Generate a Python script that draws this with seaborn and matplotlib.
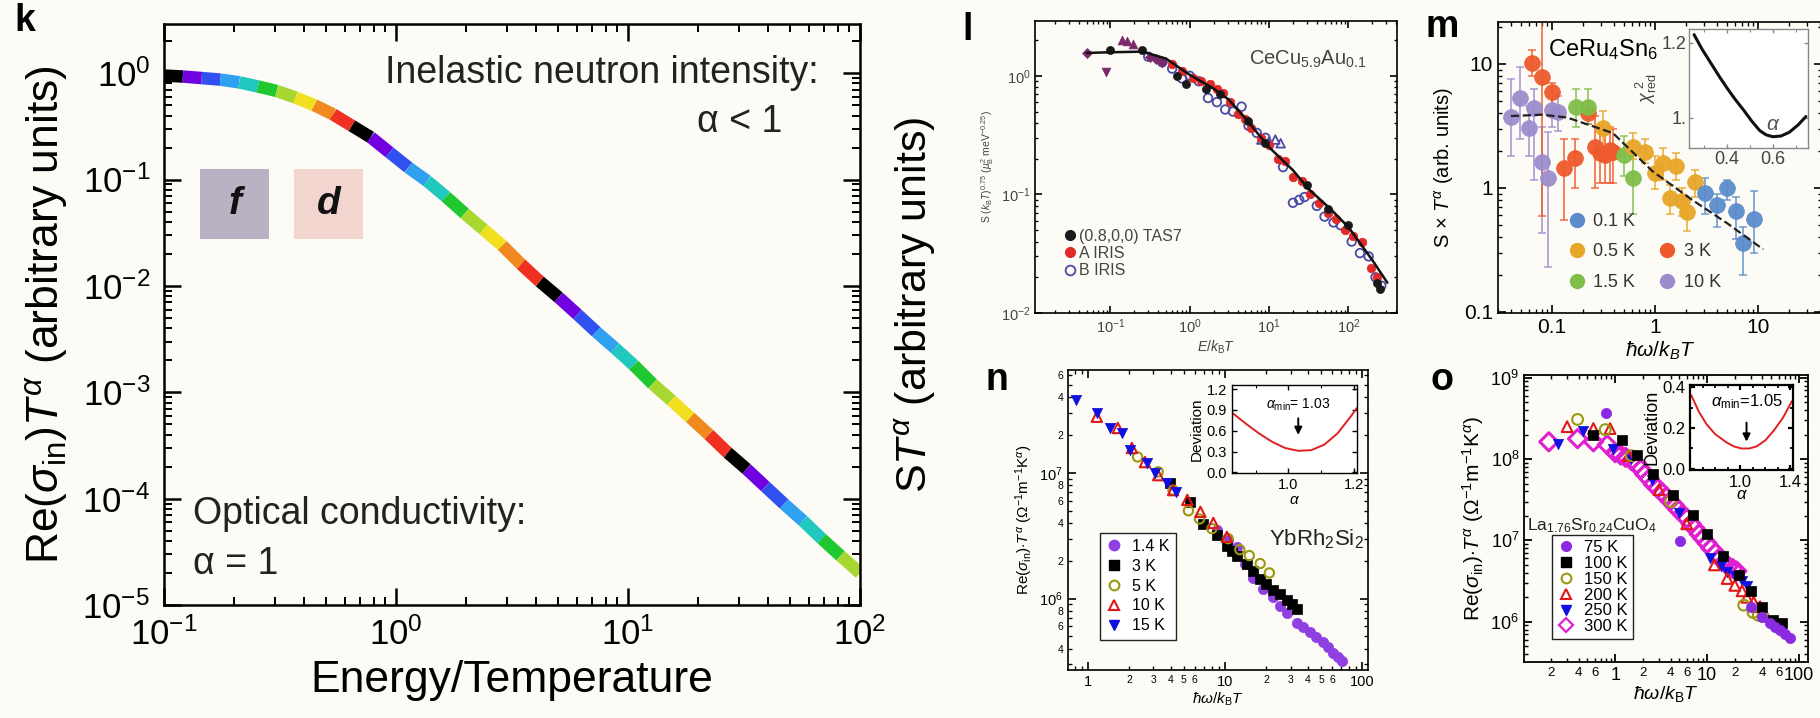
import matplotlib
matplotlib.use('Agg')
import numpy as np
import pandas as pd
import matplotlib.pyplot as plt
import seaborn as sns
from matplotlib.lines import Line2D
from matplotlib.patches import Rectangle
from matplotlib.ticker import LogLocator, FuncFormatter, NullFormatter, FixedLocator, FixedFormatter

# ---------------- data ----------------
# panel k: model curve (energy/temperature, Re(sigma) T^alpha)
K_X = [0.100, 0.1205, 0.1452, 0.1750, 0.2109, 0.2541, 0.3062, 0.3690, 0.4446, 0.5358,
       0.6457, 0.7780, 0.9376, 1.130, 1.361, 1.641, 1.977, 2.382, 2.871, 3.459,
       4.169, 5.023, 6.053, 7.295, 8.790, 10.59, 12.76, 15.38, 18.54, 22.34,
       26.92, 32.43, 39.08, 47.10, 56.75, 68.39, 82.41, 100.0]
K_Y = [0.95, 0.93, 0.90, 0.87, 0.82, 0.75, 0.68, 0.59, 0.50, 0.41,
       0.32, 0.25, 0.18, 0.13, 0.097, 0.069, 0.048, 0.034, 0.024, 0.016,
       0.011, 0.0078, 0.0054, 0.0037, 0.0026, 0.0018, 0.0012, 8.4e-4, 5.8e-4, 4.0e-4,
       2.7e-4, 1.9e-4, 1.3e-4, 8.9e-5, 6.2e-5, 4.2e-5, 2.9e-5, 2.0e-5]
K_COLORS = ['#000000', '#7000e0', '#3050f0', '#30a0f0', '#20c8c0',
            '#20c830', '#a8d830', '#f0e020', '#f08a20', '#f03020']

# panel l: CeCu5.9Au0.1
L_FIT_X = [0.05, 0.1, 0.25, 0.5, 1.0, 2.0, 3.1, 5, 10, 20, 32, 60, 100, 200, 310]
L_FIT_Y = [1.56, 1.58, 1.6, 1.4, 1.02, 0.78, 0.63, 0.44, 0.25, 0.16, 0.11, 0.075, 0.053, 0.028, 0.018]
L_TAS_X = [0.1, 0.25, 0.7, 0.9, 1.6, 2.4, 5.5, 9, 30, 55, 100, 230, 250]
L_TAS_Y = [1.65, 1.65, 1.0, 0.85, 0.78, 0.7, 0.42, 0.27, 0.12, 0.075, 0.055, 0.018, 0.016]
L_A_X = [0.6, 0.8, 1.1, 1.4, 1.8, 2.2, 2.6, 3.2, 4, 5, 6, 8, 10, 13, 16, 20, 26, 33, 42, 55,
         70, 90, 115, 150, 190, 230]
L_A_Y = [1.25, 1.1, 0.95, 0.9, 0.85, 0.78, 0.72, 0.6, 0.48, 0.43, 0.36, 0.3, 0.26, 0.2, 0.19,
         0.14, 0.13, 0.1, 0.085, 0.07, 0.062, 0.05, 0.045, 0.04, 0.024, 0.02]
L_B_X = [0.3, 0.45, 0.6, 0.8, 1.0, 1.3, 1.7, 2.2, 2.8, 3.5, 4.5, 5.5, 7, 9, 15, 20, 24, 28,
         40, 50, 65, 80, 110, 140, 180, 220, 260]
L_B_Y = [1.45, 1.3, 1.15, 0.95, 1.0, 0.9, 0.65, 0.6, 0.52, 0.5, 0.55, 0.38, 0.33, 0.3, 0.17,
         0.085, 0.09, 0.095, 0.08, 0.065, 0.058, 0.055, 0.04, 0.032, 0.03, 0.02, 0.017]
L_BTRI_X = [8, 10, 12, 14]
L_BTRI_Y = [0.29, 0.28, 0.29, 0.27]
L_PUP_X = [0.14, 0.16, 0.19]
L_PUP_Y = [2.0, 1.95, 1.85]
L_PDN_X = [0.087]
L_PDN_Y = [1.08]
L_PDI_X = [0.05, 0.32, 0.38, 0.45]
L_PDI_Y = [1.56, 1.45, 1.4, 1.3]

# panel m: CeRu4Sn6, value with lower / upper error bar ends
M_FIT_X = [0.04, 0.08, 0.14, 0.39, 0.95, 2.3, 5.0, 11.2]
M_FIT_Y = [3.8, 3.9, 3.7, 2.77, 1.36, 0.8, 0.52, 0.32]
M_01_X = [3.06, 4.03, 5.04, 6.11, 7.2, 9.14]
M_01_Y = [0.905, 0.73, 1.0, 0.656, 0.358, 0.56]
M_01_LO = [0.62, 0.48, 0.8, 0.39, 0.2, 0.3]
M_01_HI = [1.2, 0.9, 1.15, 0.85, 0.48, 0.95]
M_05_X = [0.315, 0.616, 0.80, 1.0, 1.2, 1.4, 1.6, 1.82, 2.03, 2.44]
M_05_Y = [3.03, 2.15, 1.96, 1.31, 1.58, 0.83, 1.49, 0.78, 0.645, 1.12]
M_05_LO = [2.1, 1.7, 1.6, 0.98, 1.15, 0.62, 1.15, 0.59, 0.45, 0.85]
M_05_HI = [4.2, 2.76, 2.5, 1.8, 2.1, 1.05, 1.9, 1.0, 0.8, 1.4]
M_3_X = [0.0635, 0.0794, 0.0993, 0.131, 0.167, 0.225, 0.261, 0.292, 0.327, 0.366, 0.394]
M_3_Y = [10.1, 7.9, 5.98, 1.44, 1.74, 4.0, 2.15, 1.9, 1.85, 2.02, 1.95]
M_3_LO = [8.0, 0.59, 4.6, 0.55, 1.0, 3.3, 1.0, 1.1, 1.1, 1.1, 1.1]
M_3_HI = [13.0, 30.0, 7.0, 2.5, 2.5, 4.9, 3.8, 3.1, 3.1, 3.1, 3.0]
M_15_X = [0.171, 0.225, 0.503, 0.616]
M_15_Y = [4.48, 4.48, 1.85, 1.2]
M_15_LO = [3.1, 3.3, 1.25, 0.62]
M_15_HI = [6.3, 6.3, 2.6, 1.8]
M_10_X = [0.0397, 0.0489, 0.0602, 0.0669, 0.0794, 0.0908, 0.0993, 0.115]
M_10_Y = [3.71, 5.28, 3.03, 4.4, 1.63, 1.2, 4.26, 4.12]
M_10_LO = [1.8, 2.5, 1.8, 1.15, 0.43, 0.23, 3.1, 2.9]
M_10_HI = [7.5, 9.5, 4.6, 6.3, 3.1, 2.8, 5.5, 5.5]
M_INS_A = [0.257, 0.29, 0.329, 0.365, 0.40, 0.435, 0.471, 0.507, 0.543, 0.57, 0.60, 0.635, 0.671, 0.71, 0.743]
M_INS_C = [1.222, 1.185, 1.147, 1.112, 1.080, 1.05, 1.022, 0.992, 0.966, 0.955, 0.950, 0.952, 0.962, 0.982, 1.004]

# panel n: YbRh2Si2
N_14_X = [8.7, 10.5, 12.3, 14, 16, 19, 22.4, 25, 28.3, 33.4, 37, 41.6, 46, 51.5, 56, 61.5, 66, 71]
N_14_Y = [3.5e6, 2.9e6, 2.55e6, 1.9e6, 1.46e6, 1.2e6, 1.02e6, 8.8e5, 7.7e5, 6.4e5, 5.9e5, 5.4e5,
          4.9e5, 4.5e5, 4.1e5, 3.7e5, 3.45e5, 3.2e5]
N_3_X = [3.97, 5.55, 6.9, 8.7, 10.3, 11.3, 12.3, 14.5, 16, 18, 20, 22.4, 25, 28.3, 30.5, 33.4]
N_3_Y = [8.3e6, 5.9e6, 3.9e6, 3.2e6, 2.6e6, 2.4e6, 2.2e6, 1.9e6, 1.65e6, 1.43e6, 1.3e6, 1.18e6,
         1.08e6, 9.8e5, 9.0e5, 8.2e5]
N_5_X = [2.3, 3.25, 4.17, 5.4, 6.5, 8.0, 10.5, 12.8, 15, 18, 21]
N_5_Y = [1.34e7, 1.02e7, 7.3e6, 5.0e6, 4.3e6, 3.6e6, 3.0e6, 2.45e6, 2.2e6, 1.9e6, 1.6e6]
N_10_X = [1.16, 1.65, 2.09, 2.6, 3.25, 4.17, 5.3, 6.6, 8.2, 10.3]
N_10_Y = [2.8e7, 2.28e7, 1.58e7, 1.22e7, 9.6e6, 7.3e6, 6.1e6, 4.9e6, 4.0e6, 3.1e6]
N_15_X = [0.82, 1.16, 1.45, 1.77, 2.03, 2.7, 3.08, 3.77, 4.4]
N_15_Y = [3.8e7, 3.0e7, 2.28e7, 2.07e7, 1.52e7, 1.2e7, 1.0e7, 8.3e6, 7.0e6]
N_INS_A = [0.83, 0.87, 0.91, 0.95, 0.99, 1.03, 1.07, 1.11, 1.15, 1.19, 1.21]
N_INS_D = [0.85, 0.70, 0.56, 0.44, 0.35, 0.31, 0.32, 0.40, 0.56, 0.80, 0.93]

# panel o: La1.76Sr0.24CuO4
O_75_X = [0.8, 5.1, 30, 40, 48, 55, 62, 70, 80]
O_75_Y = [3.65e8, 9.7e6, 1.5e6, 1.15e6, 9.6e5, 8.7e5, 7.9e5, 7e5, 6.3e5]
O_100_X = [0.58, 1.19, 1.73, 2.6, 4.3, 7.0, 10, 15, 22, 30, 40, 52, 66]
O_100_Y = [2e8, 1.73e8, 1.12e8, 6.5e7, 3.65e7, 2.05e7, 1.2e7, 6.5e6, 3.8e6, 2.4e6, 1.5e6, 1.06e6, 9.6e5]
O_150_X = [0.39, 0.78, 1.5, 4, 25, 31.6, 36, 40.7]
O_150_Y = [3.07e8, 2.3e8, 1.1e8, 3e7, 1.6e6, 1.3e6, 1.2e6, 1.16e6]
O_200_X = [0.3, 0.58, 0.88, 1.4, 3, 6, 12, 16.5, 20, 24, 27, 32, 37.6]
O_200_Y = [2.5e8, 2.37e8, 2.37e8, 1.1e8, 4.2e7, 1.6e7, 5e6, 3.4e6, 2.8e6, 2.4e6, 2.0e6, 1.75e6, 1.53e6]
O_250_X = [0.24, 0.45, 0.95, 1.5, 2.5, 5, 10.8, 14, 16.5, 20, 24, 27]
O_250_Y = [1.54e8, 2.2e8, 1.33e8, 1.0e8, 5.5e7, 2.2e7, 6e6, 4.8e6, 4.1e6, 3.6e6, 3.2e6, 2.75e6]
O_300_X = [0.19, 0.39, 0.58, 0.82, 1.0, 1.15, 1.3, 1.5, 1.73, 1.9, 2.1, 2.35, 2.6, 2.9, 3.2, 3.6,
           3.96, 4.4, 4.8, 5.4, 6.0, 6.7, 7.4, 8.2, 9.0, 10, 11, 12.4, 13.8, 15.4, 17, 19, 21]
O_300_Y = [1.63e8, 1.78e8, 1.63e8, 1.5e8, 1.2e8, 1.12e8, 1.05e8, 9.6e7, 8.7e7, 7.5e7, 6.5e7, 5.7e7,
           4.9e7, 4.4e7, 3.9e7, 3.45e7, 3.06e7, 2.7e7, 2.4e7, 2.1e7, 1.88e7, 1.6e7, 1.4e7, 1.2e7,
           1.06e7, 9.2e6, 8e6, 7e6, 6e6, 5.4e6, 4.8e6, 4.5e6, 4.2e6]
O_INS_A = [0.61, 0.67, 0.73, 0.80, 0.89, 0.95, 1.01, 1.07, 1.13, 1.20, 1.27, 1.34, 1.41]
O_INS_D = [0.36, 0.28, 0.22, 0.17, 0.13, 0.11, 0.10, 0.10, 0.11, 0.14, 0.19, 0.25, 0.33]

# ---------------- style ----------------
sns.set_style('ticks')
BG = '#fcfbf6'
plt.rcParams['font.family'] = ['Liberation Sans', 'DejaVu Sans']
plt.rcParams['mathtext.fontset'] = 'custom'
plt.rcParams['mathtext.rm'] = 'Liberation Sans'
plt.rcParams['mathtext.it'] = 'Liberation Sans:italic'
plt.rcParams['mathtext.bf'] = 'Liberation Sans:bold'
plt.rcParams['axes.unicode_minus'] = False
for key in ['text.color', 'axes.labelcolor', 'xtick.color', 'ytick.color', 'axes.edgecolor']:
    plt.rcParams[key] = 'black'

W, H = 1820, 718
fig = plt.figure(figsize=(W / 100, H / 100), dpi=100, facecolor=BG)


def box(x0, y0, x1, y1):
    return [x0 / W, 1 - y1 / H, (x1 - x0) / W, (y1 - y0) / H]


def frame(ax, lw=1.2, major=6, minor=3, size=11, color='black', face=BG):
    ax.set_facecolor(face)
    for s in ax.spines.values():
        s.set_linewidth(lw)
        s.set_color(color)
    ax.tick_params(which='both', direction='in', top=True, right=True, color=color)
    ax.tick_params(which='major', length=major, width=lw, labelsize=size)
    ax.tick_params(which='minor', length=minor, width=lw * 0.8)


def log_axes(ax):
    ax.set_xscale('log')
    ax.set_yscale('log')
    for axis in (ax.xaxis, ax.yaxis):
        axis.set_major_locator(LogLocator(base=10, numticks=15))
        axis.set_minor_locator(LogLocator(base=10, subs=np.arange(2, 10), numticks=15))


def digit_fmt(keep):
    def f(v, pos):
        d = int(round(v / 10 ** np.floor(np.log10(v) + 1e-9)))
        return str(d) if d in keep else ''
    return FuncFormatter(f)


def plain_fmt(v, pos):
    return '%g' % v


def pts(ax, xs, ys, marker, color, size, open_=False, lw=1.3, alpha=1.0, zorder=3):
    if open_:
        sns.scatterplot(x=xs, y=ys, marker=marker, s=size, color=color, facecolors='none',
                        edgecolor=color, linewidth=lw, alpha=alpha, ax=ax, zorder=zorder, legend=False)
    else:
        sns.scatterplot(x=xs, y=ys, marker=marker, s=size, color=color, edgecolor=color,
                        linewidth=0.5, alpha=alpha, ax=ax, zorder=zorder, legend=False)


# ---------------- panel k ----------------
ax = fig.add_axes(box(164, 24, 860, 605))
rows = []
for i in range(len(K_X) - 1):
    for j in (i, i + 1):
        rows.append({'x': K_X[j], 'y': K_Y[j], 'seg': i})
seg_df = pd.DataFrame(rows)
pal = {i: K_COLORS[i % len(K_COLORS)] for i in range(len(K_X) - 1)}
sns.lineplot(data=seg_df, x='x', y='y', hue='seg', palette=pal, estimator=None, sort=False,
             legend=False, linewidth=9, solid_capstyle='butt', ax=ax)
log_axes(ax)
ax.set_xlim(0.1, 100)
ax.set_ylim(1e-5, 2.9)
frame(ax, lw=1.8, major=12, minor=6, size=25)
ax.tick_params(axis='x', pad=9)
ax.tick_params(axis='y', pad=10)
ax.set_xlabel('Energy/Temperature', fontsize=32)
ax.xaxis.set_label_coords(0.5, -0.095)
ax.set_ylabel(r'Re($\sigma_{\rm in}$)$T^{\alpha}$ (arbitrary units)', fontsize=32)
ax.yaxis.set_label_coords(-0.135, 0.5)
ax.text(0.94, 0.916, 'Inelastic neutron intensity:', transform=ax.transAxes, ha='right',
        va='center', fontsize=27, color='#222222')
ax.text(0.889, 0.831, 'α < 1', transform=ax.transAxes, ha='right', va='center',
        fontsize=27, color='#222222')
ax.text(0.042, 0.157, 'Optical conductivity:', transform=ax.transAxes, ha='left',
        va='center', fontsize=27, color='#222222')
ax.text(0.042, 0.071, 'α = 1', transform=ax.transAxes, ha='left', va='center',
        fontsize=27, color='#222222')
for x0, c, t in [(0.052, '#bab2c2', 'f'), (0.187, '#f3d5d0', 'd')]:
    ax.add_patch(Rectangle((x0, 0.63), 0.099, 0.12, transform=ax.transAxes, facecolor=c,
                           edgecolor='none', zorder=1))
    ax.text(x0 + 0.0495, 0.69, t, transform=ax.transAxes, ha='center', va='center',
            fontsize=28, fontweight='bold', fontstyle='italic', color='#111111')
fig.text(25 / W, 1 - 21 / H, 'k', fontsize=27, fontweight='bold', ha='center', va='center')

# middle shared label
fig.text(915 / W, 1 - 305 / H, r'S$T^{\alpha}$ (arbitrary units)', rotation=90, fontsize=31,
         ha='center', va='center')

# ---------------- panel l ----------------
ax = fig.add_axes(box(1035, 21, 1397, 313))
GL = '#444444'
sns.lineplot(x=L_FIT_X, y=L_FIT_Y, color='#111111', linewidth=1.8, ax=ax, zorder=5)
pts(ax, L_B_X, L_B_Y, 'o', '#4a4aa8', 38, open_=True, lw=1.3)
pts(ax, L_BTRI_X, L_BTRI_Y, '^', '#4a4aa8', 38, open_=True, lw=1.3)
pts(ax, L_A_X, L_A_Y, 'o', '#e02a2a', 38)
pts(ax, L_TAS_X, L_TAS_Y, 'o', '#1a1a1a', 34)
pts(ax, L_PUP_X, L_PUP_Y, '^', '#7a2a6a', 40)
pts(ax, L_PDN_X, L_PDN_Y, 'v', '#7a2a6a', 40)
pts(ax, L_PDI_X, L_PDI_Y, 'D', '#7a2a6a', 26)
log_axes(ax)
ax.set_xlim(0.0112, 410)
ax.set_ylim(0.01, 2.9)
frame(ax, lw=1.2, major=5, minor=2.5, size=10.5)
ax.tick_params(labelcolor=GL, pad=3)
ax.set_xlabel(r'$E/k_{\rm B}T$', fontsize=10, color=GL, labelpad=2)
ax.set_ylabel(r'S ($k_{\rm B}T$)$^{0.75}$ ($\mu_{\rm B}^{2}$ meV$^{-0.25}$)', fontsize=7.5,
              color=GL, labelpad=4)
ax.text(0.59, 0.87, r'CeCu$_{5.9}$Au$_{0.1}$', transform=ax.transAxes, fontsize=14.5,
        color=GL, ha='left', va='center')
hl = [Line2D([], [], ls='', marker='o', ms=7, color='#1a1a1a'),
      Line2D([], [], ls='', marker='o', ms=7, color='#e02a2a'),
      Line2D([], [], ls='', marker='o', ms=7, mfc='none', mec='#4a4aa8', mew=1.3)]
ax.legend(hl, ['(0.8,0,0) TAS7', 'A IRIS', 'B IRIS'], loc='lower left',
          bbox_to_anchor=(0.05, 0.08), frameon=False, fontsize=11.5, handlelength=0.7,
          handletextpad=0.2, labelspacing=0.15, borderpad=0.2, labelcolor=GL)
fig.text(968 / W, 1 - 30 / H, 'l', fontsize=27, fontweight='bold', ha='center', va='center')

# ---------------- panel m ----------------
ax = fig.add_axes(box(1498, 22, 1822, 313))
series_m = [(M_10_X, M_10_Y, M_10_LO, M_10_HI, '#9d8ccc', '10 K'),
            (M_3_X, M_3_Y, M_3_LO, M_3_HI, '#ee5a2c', '3 K'),
            (M_15_X, M_15_Y, M_15_LO, M_15_HI, '#7fbf4a', '1.5 K'),
            (M_05_X, M_05_Y, M_05_LO, M_05_HI, '#e8a628', '0.5 K'),
            (M_01_X, M_01_Y, M_01_LO, M_01_HI, '#5b8ccb', '0.1 K')]
handles_m = {}
for xs, ys, lo, hi, c, lab in series_m:
    err = [[y - l for y, l in zip(ys, lo)], [h - y for y, h in zip(ys, hi)]]
    ax.errorbar(xs, ys, yerr=err, fmt='none', ecolor=c, elinewidth=1.3, capsize=3,
                capthick=1.2, alpha=0.8, zorder=2)
    pts(ax, xs, ys, 'o', c, 130, alpha=0.95)
    handles_m[lab] = Line2D([], [], ls='', marker='o', ms=10, color=c)
sns.lineplot(x=M_FIT_X, y=M_FIT_Y, color='#222222', linewidth=1.6, linestyle='--', ax=ax,
             zorder=4)
log_axes(ax)
ax.set_xlim(0.0299, 41.8)
ax.set_ylim(0.098, 21.8)
frame(ax, lw=1.2, major=6, minor=3, size=15)
ax.xaxis.set_major_formatter(FuncFormatter(plain_fmt))
ax.yaxis.set_major_formatter(FuncFormatter(plain_fmt))
ax.yaxis.set_minor_formatter(NullFormatter())
ax.set_xlabel(r'$\hbar\omega/k_{B}T$', fontsize=15, labelpad=2)
ax.set_ylabel(r'S × $T^{\alpha}$ (arb. units)', fontsize=14.5, labelpad=6)
ax.text(0.155, 0.905, r'CeRu$_4$Sn$_6$', transform=ax.transAxes, fontsize=17,
        ha='left', va='center')
blank = Line2D([], [], ls='', marker='')
ax.legend([handles_m['0.1 K'], handles_m['0.5 K'], handles_m['1.5 K'], blank,
           handles_m['3 K'], handles_m['10 K']],
          ['0.1 K', '0.5 K', '1.5 K', '', '3 K', '10 K'], ncol=2, loc='lower left',
          bbox_to_anchor=(0.17, 0.02), frameon=False, fontsize=13, handlelength=0.8,
          handletextpad=0.5, labelspacing=0.75, columnspacing=1.4, labelcolor='#333333')
fig.text(1442 / W, 1 - 27 / H, 'm', fontsize=27, fontweight='bold', ha='center', va='center')

ins = fig.add_axes(box(1689, 29, 1808, 148))
sns.lineplot(x=M_INS_A, y=M_INS_C, color='#111111', linewidth=2.2, ax=ins)
ins.set_xlim(0.235, 0.752)
ins.set_ylim(0.92, 1.237)
frame(ins, lw=1.0, major=3, minor=2, size=13, color='#888888', face='white')
ins.tick_params(labelcolor='#444444', pad=2)
ins.xaxis.set_major_locator(FixedLocator([0.4, 0.6]))
ins.xaxis.set_minor_locator(FixedLocator([0.3, 0.5, 0.7]))
ins.yaxis.set_major_locator(FixedLocator([1.0, 1.2]))
ins.yaxis.set_major_formatter(FixedFormatter(['1.', '1.2']))
ins.set_xlabel('')
ins.set_ylabel(r'$\chi_{\rm red}^{\ 2}$', fontsize=13, color='#444444', labelpad=2)
ins.text(0.71, 0.2, r'$\alpha$', transform=ins.transAxes, fontsize=15, color='#555555',
         ha='center', va='center')

# ---------------- panel n ----------------
ax = fig.add_axes(box(1068, 370, 1368, 670))
pts(ax, N_14_X, N_14_Y, 'o', '#9040e0', 55)
pts(ax, N_3_X, N_3_Y, 's', '#000000', 50)
pts(ax, N_5_X, N_5_Y, 'o', '#9a9a10', 45, open_=True, lw=1.5)
pts(ax, N_10_X, N_10_Y, '^', '#e01818', 55, open_=True, lw=1.5)
pts(ax, N_15_X, N_15_Y, 'v', '#1010e0', 55)
log_axes(ax)
ax.set_xlim(0.715, 110)
ax.set_ylim(2.7e5, 6.6e7)
frame(ax, lw=1.2, major=6, minor=3, size=10.5)
ax.tick_params(which='minor', labelsize=7.5)
ax.xaxis.set_major_formatter(FuncFormatter(plain_fmt))
ax.xaxis.set_minor_formatter(digit_fmt({2, 3, 4, 5, 6}))
ax.yaxis.set_minor_formatter(digit_fmt({2, 4, 6, 8}))
ax.set_xlabel(r'$\hbar\omega/k_{\rm B}T$', fontsize=11, labelpad=1)
ax.set_ylabel(r'Re($\sigma_{\rm in}$)$\cdot T^{\alpha}$ ($\Omega^{-1}$m$^{-1}$K$^{\alpha}$)',
              fontsize=11, labelpad=3)
ax.text(0.985, 0.435, r'YbRh$_2$Si$_2$', transform=ax.transAxes, fontsize=16,
        ha='right', va='center', color='#222222')
hn = [Line2D([], [], ls='', marker='o', ms=7.5, color='#9040e0'),
      Line2D([], [], ls='', marker='s', ms=7, color='#000000'),
      Line2D([], [], ls='', marker='o', ms=7, mfc='none', mec='#9a9a10', mew=1.5),
      Line2D([], [], ls='', marker='^', ms=7.5, mfc='none', mec='#e01818', mew=1.5),
      Line2D([], [], ls='', marker='v', ms=7.5, color='#1010e0')]
leg = ax.legend(hn, ['1.4 K', '3 K', '5 K', '10 K', '15 K'], loc='lower left',
                bbox_to_anchor=(0.08, 0.075), fontsize=11.5, handlelength=1.0,
                handletextpad=0.6, labelspacing=0.3, borderpad=0.4, fancybox=False,
                edgecolor='#222222', facecolor='white', framealpha=1)
leg.get_frame().set_linewidth(1.0)
fig.text(997 / W, 1 - 380 / H, 'n', fontsize=27, fontweight='bold', ha='center', va='center')

ins = fig.add_axes(box(1232, 385, 1357, 473))
sns.lineplot(x=N_INS_A, y=N_INS_D, color='#e02020', linewidth=1.4, ax=ins)
ins.set_xlim(0.827, 1.21)
ins.set_ylim(-0.01, 1.26)
frame(ins, lw=1.0, major=3.5, minor=2, size=10.5, face='white')
ins.xaxis.set_major_locator(FixedLocator([1.0, 1.2]))
ins.xaxis.set_minor_locator(FixedLocator([0.9, 1.1]))
ins.xaxis.set_major_formatter(FixedFormatter(['1.0', '1.2']))
ins.yaxis.set_major_locator(FixedLocator([0.0, 0.3, 0.6, 0.9, 1.2]))
ins.yaxis.set_major_formatter(FixedFormatter(['0.0', '0.3', '0.6', '0.9', '1.2']))
ins.set_xlabel(r'$\alpha$', fontsize=11, labelpad=1)
ins.set_ylabel('Deviation', fontsize=11, labelpad=2)
ins.annotate('', xy=(1.03, 0.5), xytext=(1.03, 0.82),
             arrowprops=dict(arrowstyle='-|>', color='black', lw=1.4, mutation_scale=11))
ins.text(1.03, 0.98, r'$\alpha_{\rm min}$= 1.03', fontsize=10, ha='center', va='center')

# ---------------- panel o ----------------
ax = fig.add_axes(box(1524, 375, 1808, 662))
pts(ax, O_300_X, O_300_Y, 'D', '#e020d0', 85, open_=True, lw=2.2)
pts(ax, O_250_X, O_250_Y, 'v', '#1010e0', 55)
pts(ax, O_200_X, O_200_Y, '^', '#e01818', 60, open_=True, lw=1.5)
pts(ax, O_150_X, O_150_Y, 'o', '#9a9a10', 60, open_=True, lw=1.5)
pts(ax, O_100_X, O_100_Y, 's', '#000000', 50)
pts(ax, O_75_X, O_75_Y, 'o', '#8a2be2', 55)
log_axes(ax)
ax.set_xlim(0.102, 125)
ax.set_ylim(3.2e5, 1.08e9)
frame(ax, lw=1.3, major=6, minor=3, size=13)
ax.tick_params(which='minor', labelsize=9.5)
ax.xaxis.set_major_formatter(FuncFormatter(plain_fmt))
ax.xaxis.set_minor_formatter(digit_fmt({2, 4, 6}))
ax.set_xlabel(r'$\hbar\omega/k_{\rm B}T$', fontsize=14, labelpad=0)
ax.set_ylabel(r'Re($\sigma_{\rm in}$)$\cdot T^{\alpha}$ ($\Omega^{-1}$m$^{-1}$K$^{\alpha}$)',
              fontsize=15, labelpad=3)
ax.text(0.01, 0.474, r'La$_{1.76}$Sr$_{0.24}$CuO$_4$', transform=ax.transAxes, fontsize=12.5,
        ha='left', va='center', color='#222222')
ho = [Line2D([], [], ls='', marker='o', ms=7, color='#8a2be2'),
      Line2D([], [], ls='', marker='s', ms=6.5, color='#000000'),
      Line2D([], [], ls='', marker='o', ms=7, mfc='none', mec='#9a9a10', mew=1.5),
      Line2D([], [], ls='', marker='^', ms=7.5, mfc='none', mec='#e01818', mew=1.5),
      Line2D([], [], ls='', marker='v', ms=7, color='#1010e0'),
      Line2D([], [], ls='', marker='D', ms=7, mfc='none', mec='#e020d0', mew=1.6)]
leg = ax.legend(ho, ['75 K', '100 K', '150 K', '200 K', '250 K', '300 K'], loc='lower left',
                bbox_to_anchor=(0.07, 0.05), fontsize=12, handlelength=1.0,
                handletextpad=0.6, labelspacing=0.05, borderpad=0.3, fancybox=False,
                edgecolor='#222222', facecolor='white', framealpha=1)
leg.get_frame().set_linewidth(1.0)
fig.text(1442 / W, 1 - 380 / H, 'o', fontsize=27, fontweight='bold', ha='center', va='center')

ins = fig.add_axes(box(1690, 385, 1793, 470))
sns.lineplot(x=O_INS_A, y=O_INS_D, color='#e02020', linewidth=1.4, ax=ins)
ins.set_xlim(0.6, 1.42)
ins.set_ylim(-0.005, 0.41)
frame(ins, lw=1.6, major=3.5, minor=2, size=12, face='white')
ins.xaxis.set_major_locator(FixedLocator([1.0, 1.4]))
ins.xaxis.set_minor_locator(FixedLocator([0.7, 0.8, 0.9, 1.1, 1.2, 1.3]))
ins.xaxis.set_major_formatter(FixedFormatter(['1.0', '1.4']))
ins.yaxis.set_major_locator(FixedLocator([0.0, 0.2, 0.4]))
ins.yaxis.set_minor_locator(FixedLocator([0.1, 0.3]))
ins.yaxis.set_major_formatter(FixedFormatter(['0.0', '0.2', '0.4']))
ins.set_xlabel(r'$\alpha$', fontsize=12, labelpad=-2)
ins.set_ylabel('Deviation', fontsize=13, labelpad=1)
ins.annotate('', xy=(1.05, 0.12), xytext=(1.05, 0.24),
             arrowprops=dict(arrowstyle='-|>', color='black', lw=1.4, mutation_scale=11))
ins.text(1.05, 0.33, r'$\alpha_{\rm min}$=1.05', fontsize=12, ha='center', va='center')

fig.savefig('out.png', dpi=100, facecolor=BG)
